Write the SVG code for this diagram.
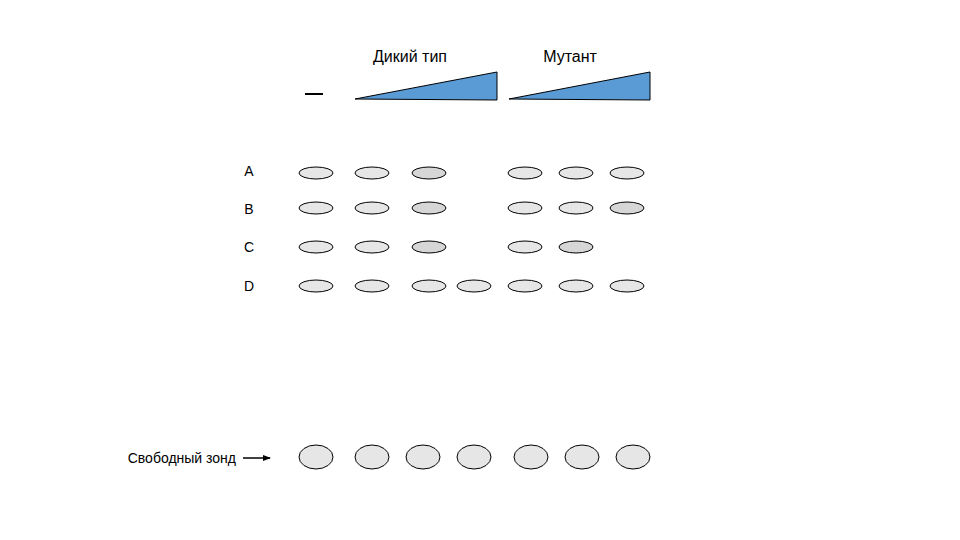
<svg xmlns="http://www.w3.org/2000/svg" width="960" height="540" viewBox="0 0 960 540">
<defs>
<style>
text{font-family:"Liberation Sans",Arial,sans-serif;font-size:14px;fill:#000}
.h{font-size:16px}
.b{fill:#e6e6e6;stroke:#000;stroke-width:1}
.d{fill:#d6d6d6;stroke:#000;stroke-width:1}
.t{fill:#5b9bd5;stroke:#000;stroke-width:1}
</style>
<marker id="ah" markerWidth="8" markerHeight="6" refX="7" refY="3" orient="auto" markerUnits="userSpaceOnUse">
<path d="M0,0 L8,3 L0,6 z" fill="#000"/>
</marker>
</defs>
<rect width="960" height="540" fill="#fff"/>
<g id="header">
<text class="h" x="410" y="62" text-anchor="middle">Дикий тип</text>
<text class="h" x="570" y="62" text-anchor="middle">Мутант</text>
<line x1="305" y1="94" x2="323" y2="94" stroke="#000" stroke-width="2"/>
<polygon class="t" points="355,99 497,72 497,100"/>
<polygon class="t" points="509,99 650,72 650,100"/>
</g>
<g id="labels">
<text x="249" y="176" text-anchor="middle">A</text>
<text x="249" y="214" text-anchor="middle">B</text>
<text x="249" y="252" text-anchor="middle">C</text>
<text x="249" y="291" text-anchor="middle">D</text>
<text x="236" y="463" text-anchor="end">Свободный зонд</text>
</g>
<g id="rowA">
<ellipse class="b" cx="316" cy="173" rx="17" ry="6"/>
<ellipse class="b" cx="372" cy="173" rx="17" ry="6"/>
<ellipse class="d" cx="429" cy="173" rx="17" ry="6"/>
<ellipse class="b" cx="525" cy="173" rx="17" ry="6"/>
<ellipse class="b" cx="576" cy="173" rx="17" ry="6"/>
<ellipse class="b" cx="627" cy="173" rx="17" ry="6"/>
</g>
<g id="rowB">
<ellipse class="b" cx="316" cy="208" rx="17" ry="6"/>
<ellipse class="b" cx="372" cy="208" rx="17" ry="6"/>
<ellipse class="d" cx="429" cy="208" rx="17" ry="6"/>
<ellipse class="b" cx="525" cy="208" rx="17" ry="6"/>
<ellipse class="b" cx="576" cy="208" rx="17" ry="6"/>
<ellipse class="d" cx="627" cy="208" rx="17" ry="6"/>
</g>
<g id="rowC">
<ellipse class="b" cx="316" cy="247" rx="17" ry="6"/>
<ellipse class="b" cx="372" cy="247" rx="17" ry="6"/>
<ellipse class="d" cx="429" cy="247" rx="17" ry="6"/>
<ellipse class="b" cx="525" cy="247" rx="17" ry="6"/>
<ellipse class="d" cx="576" cy="247" rx="17" ry="6"/>
</g>
<g id="rowD">
<ellipse class="b" cx="316" cy="286" rx="17" ry="6"/>
<ellipse class="b" cx="372" cy="286" rx="17" ry="6"/>
<ellipse class="b" cx="429" cy="286" rx="17" ry="6"/>
<ellipse class="b" cx="474" cy="286" rx="17" ry="6"/>
<ellipse class="b" cx="525" cy="286" rx="17" ry="6"/>
<ellipse class="b" cx="576" cy="286" rx="17" ry="6"/>
<ellipse class="b" cx="627" cy="286" rx="17" ry="6"/>
</g>
<g id="freeProbe">
<ellipse class="b" cx="316" cy="457" rx="17" ry="12"/>
<ellipse class="b" cx="372" cy="457" rx="17" ry="12"/>
<ellipse class="b" cx="423" cy="457" rx="17" ry="12"/>
<ellipse class="b" cx="474" cy="457" rx="17" ry="12"/>
<ellipse class="b" cx="531" cy="457" rx="17" ry="12"/>
<ellipse class="b" cx="582" cy="457" rx="17" ry="12"/>
<ellipse class="b" cx="633" cy="457" rx="17" ry="12"/>
</g>
<g id="connectors">
<line x1="243" y1="458" x2="270" y2="458" stroke="#000" stroke-width="1.5" marker-end="url(#ah)"/>
</g>
</svg>
